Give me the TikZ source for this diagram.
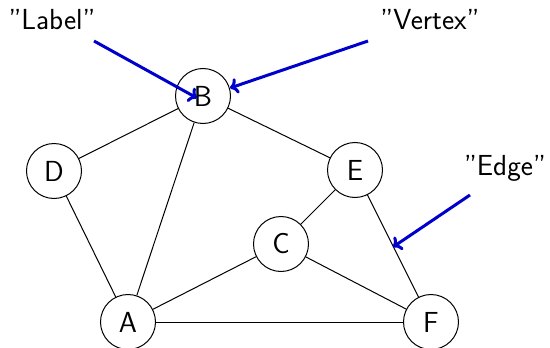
\documentclass[tikz,border=0pt]{standalone}
\usepackage{fontspec}
\usetikzlibrary{arrows.meta}
\begin{document}
\begin{tikzpicture}[x=1pt,y=-1pt,
  vert/.style={circle,draw,line width=1pt,minimum size=55pt,inner sep=0pt,font=\sffamily\fontsize{29}{34}\selectfont},
  lbl/.style={font=\sffamily\fontsize{29}{34}\selectfont,inner sep=0pt,anchor=base},
  edge/.style={line width=1pt},
  pointer/.style={draw={rgb,255:red,0;green,0;blue,205},line width=3pt,-{To[length=8pt,width=16pt]}}]
\useasboundingbox (0,0) rectangle (550,348);
\node[vert] (B) at (203,96) {B};
\node[vert] (D) at (54,171) {D};
\node[vert] (E) at (355,170) {E};
\node[vert] (C) at (281,244) {C};
\node[vert] (A) at (128,322) {A};
\node[vert] (F) at (431,322) {F};
\draw[edge] (B) -- (D);
\draw[edge] (B) -- (A);
\draw[edge] (B) -- (E);
\draw[edge] (D) -- (A);
\draw[edge] (A) -- (C);
\draw[edge] (A) -- (F);
\draw[edge] (C) -- (E);
\draw[edge] (C) -- (F);
\draw[edge] (E) -- (F);
\node[lbl] (L) at (52,30) {"Label''};
\node[lbl] (V) at (430,30) {"Vertex''};
\node[lbl] (G) at (505,175) {"Edge''};
\coordinate (l0) at (94,41);
\coordinate (l1) at (197,98);
\coordinate (v0) at (368,41);
\coordinate (v1) at (230,88);
\coordinate (g0) at (470,195);
\coordinate (g1) at (393,247);
\draw[pointer] (l0) -- (l1);
\draw[pointer] (v0) -- (v1);
\draw[pointer] (g0) -- (g1);
\end{tikzpicture}
\end{document}
